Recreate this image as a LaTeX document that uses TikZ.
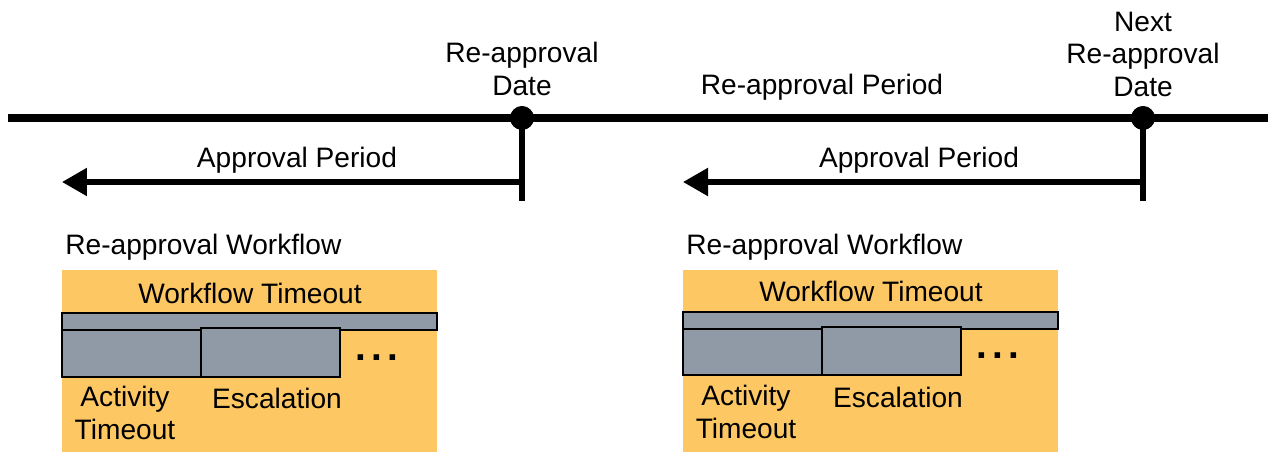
\documentclass[tikz,border=0pt]{standalone}
\usepackage{fontspec}
\setmainfont{Liberation Sans}
\usetikzlibrary{arrows.meta,positioning}
\definecolor{wfback}{HTML}{FDC864}
\definecolor{wfgray}{HTML}{9099A6}

\begin{document}
\begin{tikzpicture}[x=0.02cm,y=-0.02cm,
  lbl/.style={font=\fontsize{16}{18.5}\selectfont,inner sep=0pt,align=center},
  more/.style={font=\fontsize{22}{22}\selectfont\bfseries,inner sep=0pt},
  dot/.style={draw,circle,fill=black,inner sep=0pt,minimum size=0.46cm},
  bar/.style={draw=black,fill=wfgray,line width=1.3pt},
  period/.style={line width=3pt,-{Triangle[length=0.5cm,width=0.54cm]}}]
\useasboundingbox (0,0) rectangle (1274,452);

\coordinate (tl) at (8,118);
\coordinate (tr) at (1268,118);
\draw[line width=4pt]  (tl) -- (tr);

\node[dot] (d1) at (522,118) {};
\node[dot] (d2) at (1143,118) {};
\coordinate (d1b) at (522,201);
\coordinate (d2b) at (1143,201);
\draw[line width=3.2pt]  (d1.center) -- (d1b);
\draw[line width=3.2pt]  (d2.center) -- (d2b);
\node[dot] at (d1) {};
\node[dot] at (d2) {};

\coordinate (a1s) at (522,182);
\coordinate (a1e) at (62,182);
\coordinate (a2s) at (1143,182);
\coordinate (a2e) at (683,182);
\draw[period]  (a1s) -- (a1e);
\draw[period]  (a2s) -- (a2e);

\node[lbl] (date) at (522,69) {Re-approval\\Date};
\node[lbl] (nextdate) at (1143,54) {Next\\Re-approval\\Date};
\node[lbl] (reperiod) at (822,87) {Re-approval Period};
\node[lbl] (ap1) at (297,160) {Approval Period};
\node[lbl] (ap2) at (919,160) {Approval Period};


\node[lbl,anchor=west] (wf1) at (65,247) {Re-approval Workflow};
\fill[wfback] (62,270) rectangle (437,452);
\node[lbl] (wt1) at (250,293) {Workflow Timeout};
\draw[bar] (62,313) rectangle (437,330);
\draw[bar] (62,330) rectangle (201,377);
\draw[bar] (201,328) rectangle (340,377);
\node[more] (dots1) at (377,358) {.\hspace{3pt}.\hspace{3pt}.};
\node[lbl] (at1) at (125,413) {Activity\\Timeout};
\node[lbl] (es1) at (277,398) {Escalation};


\node[lbl,anchor=west] (wf2) at (686,247) {Re-approval Workflow};
\fill[wfback] (683,270) rectangle (1058,452);
\node[lbl] (wt2) at (871,291) {Workflow Timeout};
\draw[bar] (683,312) rectangle (1058,329);
\draw[bar] (683,329) rectangle (822,375);
\draw[bar] (822,327) rectangle (961,375);
\node[more] (dots2) at (998,356) {.\hspace{3pt}.\hspace{3pt}.};
\node[lbl] (at2) at (746,412) {Activity\\Timeout};
\node[lbl] (es2) at (898,397) {Escalation};
\end{tikzpicture}
\end{document}
